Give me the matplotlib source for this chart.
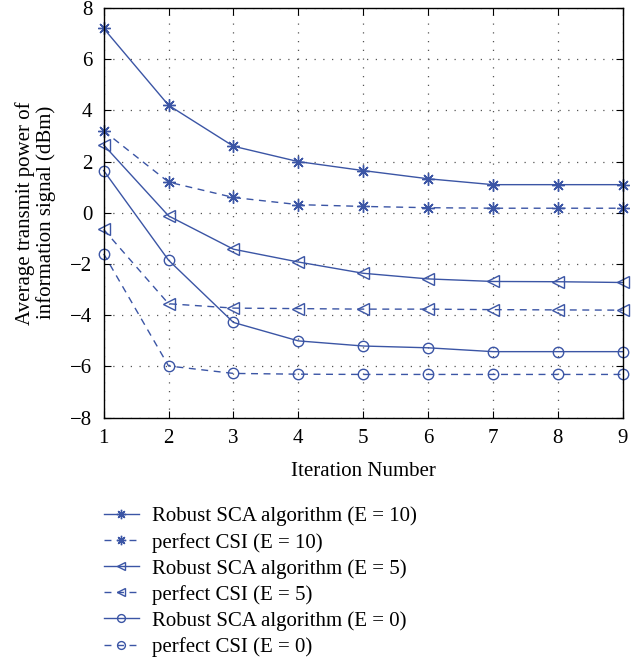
import matplotlib.pyplot as plt
import numpy as np

plt.rcParams['font.family'] = ['Liberation Serif', 'DejaVu Serif']

# data
iters = [1, 2, 3, 4, 5, 6, 7, 8, 9]
robust_e10 = [7.2, 4.2, 2.6, 2.0, 1.65, 1.33, 1.1, 1.1, 1.1]
perfect_e10 = [3.2, 1.2, 0.6, 0.32, 0.25, 0.2, 0.18, 0.18, 0.18]
robust_e5 = [2.65, -0.12, -1.42, -1.92, -2.36, -2.58, -2.68, -2.69, -2.72]
perfect_e5 = [-0.65, -3.55, -3.72, -3.74, -3.76, -3.76, -3.78, -3.79, -3.8]
robust_e0 = [1.65, -1.85, -4.28, -5.0, -5.2, -5.27, -5.42, -5.42, -5.42]
perfect_e0 = [-1.6, -5.98, -6.27, -6.3, -6.31, -6.31, -6.31, -6.31, -6.31]

labels = ['Robust SCA algorithm (E = 10)', 'perfect CSI (E = 10)',
          'Robust SCA algorithm (E = 5)', 'perfect CSI (E = 5)',
          'Robust SCA algorithm (E = 0)', 'perfect CSI (E = 0)']

col = '#3b55a5'
fs = 15

fig = plt.figure(figsize=(6.44, 6.62), dpi=100)
ax = fig.add_axes([0.161, 0.369, 0.806, 0.619])

series = [robust_e10, perfect_e10, robust_e5, perfect_e5, robust_e0, perfect_e0]
markers = [(8, 2, 0), (8, 2, 0), '<', '<', 'o', 'o']
msizes = [9, 9, 8, 8, 7.5, 7.5]
styles = ['-', '--', '-', '--', '-', '--']
for ys, m, ms, ls, lab in zip(series, markers, msizes, styles, labels):
    ax.plot(iters, ys, linestyle=ls, marker=m, color=col, lw=1.0,
            markersize=ms, markerfacecolor='none', markeredgecolor=col,
            markeredgewidth=1.0, label=lab, clip_on=False,
            dashes=(5, 4) if ls == '--' else (None, None))

ax.set_xlim(1, 9)
ax.set_ylim(-8, 8)
ax.set_xticks(iters)
ax.set_yticks(np.arange(-8, 9, 2))
ax.grid(True, linestyle=(0, (1, 6)), color='#555555', lw=0.9)
ax.tick_params(direction='in', top=True, right=True, labelsize=fs, length=5, pad=8)
for s in ax.spines.values():
    s.set_linewidth(1.0)
ax.set_xlabel('Iteration Number', fontsize=fs, labelpad=10)
ax.set_ylabel('Average transmit power of\ninformation signal (dBm)', fontsize=fs,
              linespacing=1.1, labelpad=10)

h, l = ax.get_legend_handles_labels()
fig.legend(h, l, loc='upper left', bbox_to_anchor=(0.132, 0.263), frameon=False,
           fontsize=fs, handlelength=1.7, labelspacing=0.3, handletextpad=0.6,
           markerscale=0.75)

fig.savefig('out.png', dpi=100)
